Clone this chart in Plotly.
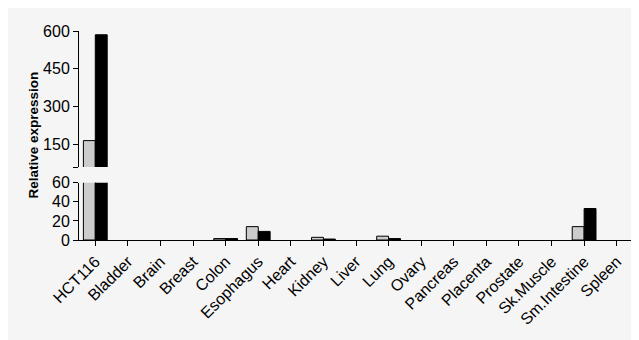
import plotly.graph_objects as go

categories = ["HCT116", "Bladder", "Brain", "Breast", "Colon", "Esophagus", "Heart",
              "Kidney", "Liver", "Lung", "Ovary", "Pancreas", "Placenta", "Prostate",
              "Sk.Muscle", "Sm.Intestine", "Spleen"]
gray_values = [165, 0, 0, 0, 1.5, 14, 0, 2.8, 0, 4, 0, 0, 0, 0, 0, 14, 0]
black_values = [585, 0, 0, 0, 1.5, 9, 0, 1, 0, 1.5, 0, 0, 0, 0, 0, 33, 0]
lower_ticks = [0, 20, 40, 60]
upper_ticks = [60, 150, 300, 450, 600]
upper_tick_text = ["", "150", "300", "450", "600"]

BG = "#f5f5f5"
fig = go.Figure()
for ya in ["y", "y2"]:
    fig.add_trace(go.Bar(x=categories, y=gray_values, yaxis=ya, xaxis="x",
                         marker=dict(color="#cccccc",
                                     line=dict(color="black",
                                               width=[1 if v > 0 else 0 for v in gray_values])),
                         showlegend=False, offsetgroup="g"))
    fig.add_trace(go.Bar(x=categories, y=black_values, yaxis=ya, xaxis="x",
                         marker=dict(color="black",
                                     line=dict(color="black",
                                               width=[1 if v > 0 else 0 for v in black_values])),
                         showlegend=False, offsetgroup="b"))

font = "Liberation Sans, Arial, sans-serif"
W, H = 631, 332
L, R, T, B = 71, 6, 23, 100
fig.update_layout(
    width=W, height=H,
    margin=dict(l=L, r=R, t=T, b=B),
    paper_bgcolor=BG, plot_bgcolor=BG,
    barmode="group", bargap=0.27, bargroupgap=0,
    font=dict(family=font, size=16, color="black"),
    xaxis=dict(range=[-0.5, 16.5], tickangle=-45, showline=True, linecolor="black",
               linewidth=1, ticks="outside", ticklen=5, tickcolor="black",
               showgrid=False, zeroline=False, anchor="y", tickfont=dict(size=16),
               automargin=False),
    yaxis=dict(domain=[0, 0.274], range=[0, 60], tickvals=lower_ticks,
               showline=True, linecolor="black", linewidth=1, ticks="outside",
               ticklen=5, tickcolor="black", showgrid=False, zeroline=False,
               anchor="x", tickfont=dict(size=16), automargin=False),
    yaxis2=dict(domain=[0.349, 1], range=[60, 600], tickvals=upper_ticks,
                ticktext=upper_tick_text,
                showline=True, linecolor="black", linewidth=1, ticks="outside",
                ticklen=5, tickcolor="black", showgrid=False, zeroline=False,
                anchor="x", tickfont=dict(size=16), automargin=False),
    annotations=[dict(text="<b>Relative expression</b>",
                      x=(33 - 8 - L) / (W - L - R), xref="paper", y=0.5,
                      yref="paper", textangle=-90, showarrow=False,
                      font=dict(size=13.5), xanchor="center", yanchor="middle")],
)
fig.write_html("out.html")
